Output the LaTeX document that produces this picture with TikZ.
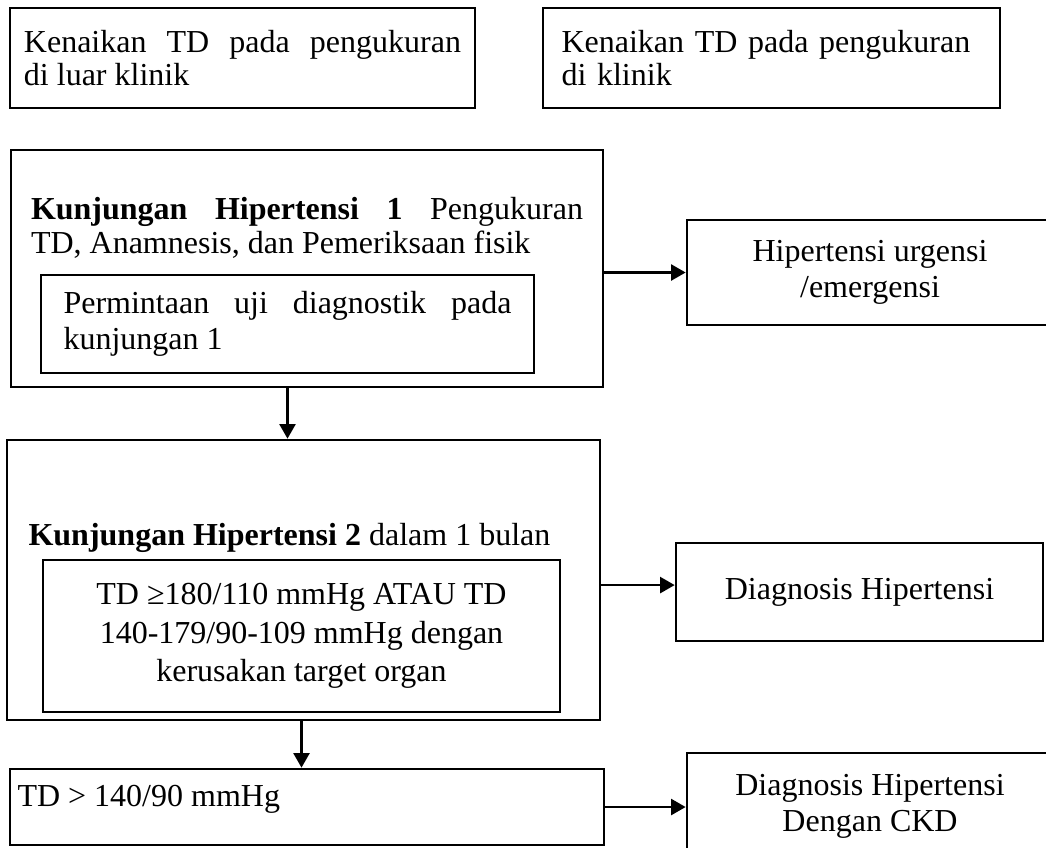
\documentclass[tikz,border=0pt]{standalone}
\usepackage{fontspec}
\setmainfont{Liberation Serif}
\usetikzlibrary{arrows.meta}

\begin{document}
\begin{tikzpicture}[x=0.375pt,y=-0.375pt,
    font=\fontsize{12}{13.5}\selectfont,
    box/.style={draw,line width=1pt,inner sep=0pt},
    txt/.style={inner sep=0pt},
    arr/.style={line width=1pt,-{Triangle[length=5.5pt,width=6pt]}}]
  \useasboundingbox (0,0) rectangle (1046,847);

  % top row
  \node[box,minimum width=174.4pt,minimum height=37.5pt,text width=163.9pt,
        align=justify,font=\fontsize{12}{12.5}\selectfont] (luar) at (242.5,58)
        {Kenaikan TD pada pengukuran\linebreak di luar klinik};
  \node[box,minimum width=171.4pt,minimum height=37.5pt,text width=157.5pt,
        align=left,font=\fontsize{12}{12.5}\selectfont] (klinik) at (771.5,58)
        {Kenaikan TD pada pengukuran\\di klinik};

  % kunjungan 1
  \node[box,minimum width=222pt,minimum height=88.9pt] (k1) at (307,268.5) {};
  \node[txt,text width=207pt,align=justify,font=\fontsize{12}{13}\selectfont] (k1txt) at (307,228)
        {\textbf{Kunjungan Hipertensi 1} Pengukuran\linebreak TD, Anamnesis, dan Pemeriksaan fisik};
  \node[box,minimum width=184.9pt,minimum height=36.75pt,text width=168pt,
        align=justify] (uji) at (287.5,324)
        {Permintaan uji diagnostik pada\linebreak kunjungan 1};
  \node[box,minimum width=137.25pt,minimum height=39.4pt,align=center] (urg) at (870,272.5)
        {Hipertensi urgensi\\/emergensi};

  % kunjungan 2
  \node[box,minimum width=222.4pt,minimum height=105pt] (k2) at (303.5,580) {};
  \node[txt,anchor=west] (k2txt) at (28,538)
        {\textbf{Kunjungan Hipertensi 2} dalam 1 bulan};
  \node[box,minimum width=193.9pt,minimum height=57pt,align=center,
        font=\fontsize{12}{14.5}\selectfont] (krit) at (301.5,636)
        {TD ≥180/110 mmHg ATAU TD\\140-179/90-109 mmHg dengan\\kerusakan target organ};
  \node[box,minimum width=137.6pt,minimum height=36.75pt] (diag) at (859.5,592)
        {Diagnosis Hipertensi};

  % bawah
  \node[box,minimum width=222.75pt,minimum height=28.5pt] (td) at (307,807) {};
  \node[txt,anchor=west] (tdtxt) at (17,799) {TD > 140/90 mmHg};
  \node[box,minimum width=137.25pt,minimum height=40.1pt,align=center] (ckd) at (870,806.5)
        {Diagnosis Hipertensi\\Dengan CKD};

  \draw[arr] (k1.east |- urg.west) -- (urg.west);
  \draw[arr] (k1.south -| uji.south) -- (k2.north -| uji.south);
  \draw[arr] ([yshift=-1.9pt]k2.east) -- ([yshift=-1.9pt]k2.east -| diag.west);
  \draw[arr] (k2.south -| krit.south) -- (td.north -| krit.south);
  \draw[arr] (td.east) -- (td.east -| ckd.west);
\end{tikzpicture}
\end{document}
